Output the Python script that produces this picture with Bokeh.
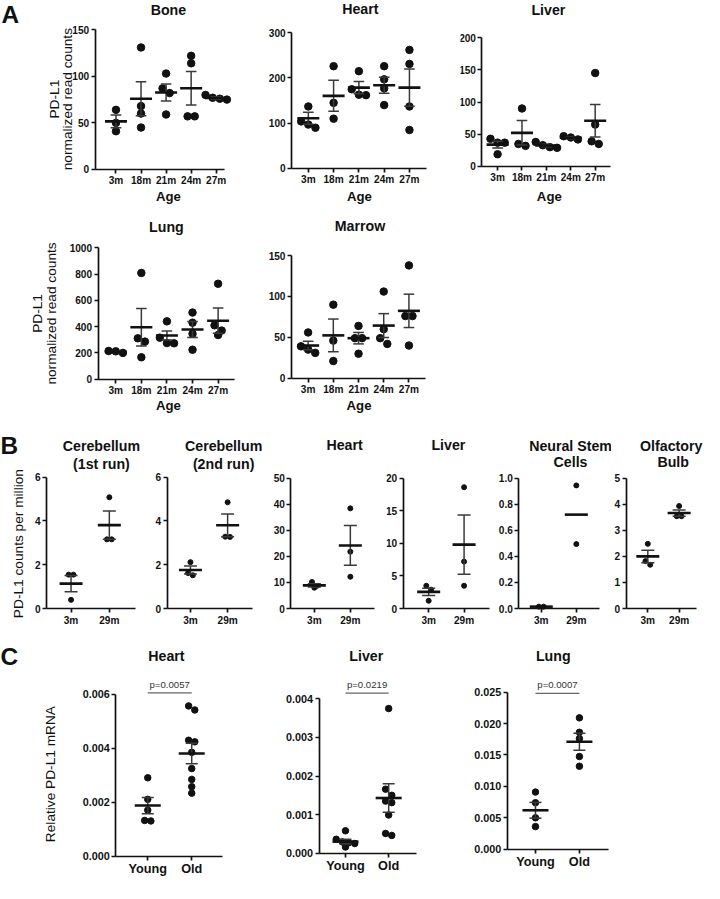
import math
from bokeh.plotting import figure
from bokeh.layouts import column, row
from bokeh.models import Label, FixedTicker, Range1d, NumeralTickFormatter
from bokeh.embed import file_html
from bokeh.resources import INLINE

# ---------------- data ----------------
AGES_A = ["3m", "18m", "21m", "24m", "27m"]
AGES_B = ["3m", "29m"]
GROUPS_C = ["Young", "Old"]

BONE_PTS = [[64, 50, 41], [131, 68, 60, 45], [103, 87, 82, 59], [122, 114, 57, 57], [80, 77, 76, 75]]
BONE_MEAN = [51.6, 76, 82.7, 87.2, 76.7]
BONE_SEM = [6.8, 18.3, 9.1, 18, 1.3]

HEART_A_PTS = [[137, 104, 97, 90], [226, 145, 110], [215, 175, 163, 162], [226, 197, 177, 140], [262, 231, 137, 85]]
HEART_A_MEAN = [110.8, 160.5, 178.6, 184, 178.6]
HEART_A_SEM = [13.2, 34.2, 13.7, 17.8, 41]

LIVER_A_PTS = [[43, 37, 37, 19], [90, 35, 32], [38, 33, 30, 29], [47, 45, 42], [145, 65, 39, 35]]
LIVER_A_MEAN = [34, 52.2, 32.5, 44.5, 71]
LIVER_A_SEM = [5.3, 19, 2, 1.5, 25.3]

LUNG_A_PTS = [[215, 212, 200], [808, 311, 286, 167], [440, 316, 275, 273], [507, 430, 346, 224], [726, 410, 370, 336]]
LUNG_A_MEAN = [208, 395, 333, 378, 445]
LUNG_A_SEM = [4.5, 143, 34, 60, 96]

MARROW_PTS = [[56, 39, 35, 31], [90, 46, 21], [64, 49, 49, 30], [106, 60, 49, 42], [138, 76, 76, 40]]
MARROW_MEAN = [40, 52.4, 49, 64.4, 82.4]
MARROW_SEM = [5.2, 20, 7, 14.6, 20.4]

CB1_PTS = [[1.55, 1.55, 0.4], [5.08, 3.16, 3.16]]
CB1_MEAN = [1.14, 3.81]
CB1_SEM = [0.37, 0.64]

CB2_PTS = [[2.12, 1.62, 1.52], [4.85, 3.28, 3.27]]
CB2_MEAN = [1.76, 3.8]
CB2_SEM = [0.18, 0.52]

HEART_B_PTS = [[10.2, 8.7, 8.0], [38.4, 21.8, 12.2]]
HEART_B_MEAN = [8.9, 24.2]
HEART_B_SEM = [0.6, 7.6]

LIVER_B_PTS = [[3.5, 2.9, 1.2], [18.6, 7.2, 3.5]]
LIVER_B_MEAN = [2.56, 9.8]
LIVER_B_SEM = [0.57, 4.55]

NSC_PTS = [[0.015, 0.015], [0.944, 0.494]]
NSC_MEAN = [0.015, 0.72]
NSC_SEM = [0.0, 0.0]

OLF_PTS = [[2.48, 1.82, 1.68], [3.93, 3.54, 3.54]]
OLF_MEAN = [2.0, 3.66]
OLF_SEM = [0.24, 0.12]

HEART_C_PTS = [[0.0029, 0.0021, 0.0017, 0.00132, 0.0013],
               [0.00556, 0.00541, 0.00429, 0.00423, 0.00384, 0.00324, 0.00284, 0.00257, 0.00233]]
HEART_C_MEAN = [0.00187, 0.0038]
HEART_C_SEM = [0.0003, 0.00038]

LIVER_C_PTS = [[0.00058, 0.00036, 0.00029, 0.00027, 0.00025, 0.00016],
               [0.00375, 0.00166, 0.0015, 0.00135, 0.00131, 0.00099, 0.00051, 0.00046]]
LIVER_C_MEAN = [0.0003, 0.00143]
LIVER_C_SEM = [0.00006, 0.00037]

LUNG_C_PTS = [[0.0091, 0.0074, 0.005, 0.0036], [0.0209, 0.0186, 0.0176, 0.01475, 0.0132]]
LUNG_C_MEAN = [0.0062, 0.0171]
LUNG_C_SEM = [0.00125, 0.00135]

P_TEXTS = ["p=0.0057", "p=0.0219", "p=0.0007"]
P_BARS = [0.00604, 0.00415, 0.0248]

# ---------------- layout helpers ----------------
S = 0.978
FONT = "Liberation Sans"
HALF_PI = math.pi / 2


def R(v):
    return int(round(S * v))


def swarm(vals, px_per_unit, dot_px):
    order = sorted(range(len(vals)), key=lambda i: -vals[i])
    rows = []
    for i in order:
        if rows and abs(vals[rows[-1][0]] - vals[i]) * px_per_unit < dot_px:
            rows[-1].append(i)
        else:
            rows.append([i])
    offs = [0.0] * len(vals)
    for r in rows:
        k = len(r)
        for j, i in enumerate(r):
            offs[i] = (j - (k - 1) / 2) * dot_px
    return offs


def panel(cell, rowy, axes, xr, cats, yticks, yfmt, pts, mean, sem, dot,
          mean_hw, cap_hw, texts, pbar=None, ptext=None,
          tick_fs=10.3, cat_fs=10.3, show_sem=True):
    x0, x1 = cell
    y0, y1 = rowy
    L, Rr, T, B = axes
    xs_, xe_ = xr
    ymax = yticks[-1]
    ppx = (Rr - L) / (xe_ - xs_)   # reference px per category unit
    ppy = (B - T) / ymax           # reference px per y unit
    fx0 = xs_ - (L - x0) / ppx
    fx1 = xe_ + (x1 - Rr) / ppx
    fy0 = -(y1 - B) / ppy
    fy1 = ymax + (T - y0) / ppy
    W = R(x1) - R(x0)
    H = R(y1) - R(y0)
    p = figure(width=W, height=H, x_range=Range1d(fx0, fx1), y_range=Range1d(fy0, fy1),
               output_backend="svg", toolbar_location=None,
               min_border_left=0, min_border_right=0, min_border_top=0, min_border_bottom=0)
    p.title.visible = False
    p.outline_line_color = None
    p.xgrid.visible = False
    p.ygrid.visible = False
    p.background_fill_color = "white"
    p.border_fill_color = "white"

    sppx = W / (fx1 - fx0)   # screen px per category unit
    sppy = H / (fy1 - fy0)   # screen px per y unit

    xs, ys = [], []
    for i, vals in enumerate(pts):
        offs = swarm(vals, sppy, dot * 0.95)
        for v, o in zip(vals, offs):
            xs.append(i + 1 + o / sppx)
            ys.append(v)

    n = len(cats)
    cx = [i + 1 for i in range(n)]
    mhw = mean_hw / sppx
    chw = cap_hw / sppx
    p.scatter(xs, ys, size=dot, color="#111111", line_color="#111111")
    if show_sem:
        lo = [m - s for m, s in zip(mean, sem)]
        hi = [m + s for m, s in zip(mean, sem)]
        p.segment(x0=cx, y0=lo, x1=cx, y1=hi, line_color="#3a3a3a", line_width=1.5)
        p.segment(x0=[c - chw for c in cx], y0=lo, x1=[c + chw for c in cx], y1=lo,
                  line_color="#3a3a3a", line_width=1.5)
        p.segment(x0=[c - chw for c in cx], y0=hi, x1=[c + chw for c in cx], y1=hi,
                  line_color="#3a3a3a", line_width=1.5)
    p.segment(x0=[c - mhw for c in cx], y0=mean, x1=[c + mhw for c in cx], y1=mean,
              line_color="#111111", line_width=2.6)

    if pbar is not None:
        p.segment(x0=[1], y0=[pbar], x1=[2], y1=[pbar], line_color="#666666", line_width=1.3)
        p.add_layout(Label(x=1.5, y=pbar, text=ptext, text_font=FONT,
                           text_font_size=f"{9.8 * S:.1f}px", text_color="#333333",
                           text_align="center", text_baseline="bottom", y_offset=3))

    p.xaxis.fixed_location = 0
    p.yaxis.fixed_location = xs_
    p.xaxis.bounds = (xs_, xe_)
    p.yaxis.bounds = (0, ymax)
    p.xaxis.ticker = FixedTicker(ticks=cx)
    p.xaxis.major_label_overrides = {i + 1: c for i, c in enumerate(cats)}
    p.yaxis.ticker = FixedTicker(ticks=yticks)
    if yfmt:
        p.yaxis.formatter = NumeralTickFormatter(format=yfmt)
    for ax, fs in ((p.xaxis[0], cat_fs), (p.yaxis[0], tick_fs)):
        ax.axis_line_width = 1.7
        ax.axis_line_color = "#111111"
        ax.major_tick_line_width = 1.7
        ax.major_tick_line_color = "#111111"
        ax.major_tick_out = 4
        ax.major_tick_in = 0
        ax.minor_tick_line_color = None
        ax.major_label_text_font = FONT
        ax.major_label_text_font_style = "bold"
        ax.major_label_text_font_size = f"{fs * S:.1f}px"
        ax.major_label_text_color = "#111111"
        ax.major_label_standoff = 2

    for t in texts:
        text, tx, ty, size = t[0], t[1], t[2], t[3]
        bold = t[4] if len(t) > 4 else True
        angle = t[5] if len(t) > 5 else 0
        p.add_layout(Label(x=fx0 + (tx - x0) / ppx, y=fy0 + (y1 - ty) / ppy,
                           text=text, text_font=FONT, text_font_size=f"{size * S:.1f}px",
                           text_font_style="bold" if bold else "normal",
                           text_color="#111111", text_align="center", text_baseline="middle",
                           angle=angle))
    return p


TS = 14.5   # panel title size (reference px)
AS = 13.5   # "Age" size
YS = 14     # y-axis title size

# ---------------- row A1 ----------------
RA1 = (0, 212)
bone = panel((0, 250), RA1, (97, 230, 30, 173), (0.17, 5.35), AGES_A, [0, 50, 100, 150], None,
             BONE_PTS, BONE_MEAN, BONE_SEM, 7.5, 11, 5.3,
             [("A", 10, 14, 25), ("Bone", 172, 10, TS), ("Age", 172, 201, AS),
              ("PD-L1", 55, 101, YS, False, HALF_PI),
              ("normalized read counts", 69, 101, YS, False, HALF_PI)])
heart_a = panel((250, 470), RA1, (298, 435, 33, 172), (0.34, 5.66), AGES_A, [0, 100, 200, 300], None,
                HEART_A_PTS, HEART_A_MEAN, HEART_A_SEM, 7.5, 11, 5.3,
                [("Heart", 368, 9, TS), ("Age", 367, 201, AS)])
liver_a = panel((470, 720), RA1, (492, 624, 38, 170), (0.36, 5.64), AGES_A, [0, 50, 100, 150, 200], None,
                LIVER_A_PTS, LIVER_A_MEAN, LIVER_A_SEM, 7.5, 11, 5.3,
                [("Liver", 560, 10, TS), ("Age", 561, 201, AS)])

# ---------------- row A2 ----------------
RA2 = (212, 425)
lung_a = panel((0, 250), RA2, (100, 240, 253, 387), (0.31, 5.65), AGES_A,
               [0, 200, 400, 600, 800, 1000], None,
               LUNG_A_PTS, LUNG_A_MEAN, LUNG_A_SEM, 7.5, 11, 5.3,
               [("Lung", 170, 232, TS), ("Age", 172, 414, AS),
                ("PD-L1", 38, 320, YS, False, HALF_PI),
                ("normalized read counts", 52, 320, YS, False, HALF_PI)])
marrow = panel((250, 720), RA2, (298, 435, 261, 386), (0.34, 5.66), AGES_A, [0, 50, 100, 150], None,
               MARROW_PTS, MARROW_MEAN, MARROW_SEM, 7.5, 11, 5.3,
               [("Marrow", 368, 231, TS), ("Age", 367, 414, AS)])

# ---------------- row B ----------------
RB = (425, 648)
cb1 = panel((0, 150), RB, (47, 138, 487, 621.5), (0.36, 2.69), AGES_B, [0, 2, 4, 6], None,
            CB1_PTS, CB1_MEAN, CB1_SEM, 5, 11.5, 6.5,
            [("B", 9, 455, 25), ("Cerebellum", 103, 455, TS), ("(1st run)", 103, 474, TS),
             ("PD-L1 counts per million", 18, 555, YS, False, HALF_PI)])
cb2 = panel((150, 275), RB, (170, 258, 487, 621.5), (0.37, 2.68), AGES_B, [0, 2, 4, 6], None,
            CB2_PTS, CB2_MEAN, CB2_SEM, 5, 11.5, 6.5,
            [("Cerebellum", 228, 455, TS), ("(2nd run)", 228, 474, TS)])
heart_b = panel((275, 395), RB, (297, 383, 488, 621.5), (0.35, 2.68), AGES_B, [0, 10, 20, 30, 40, 50], None,
                HEART_B_PTS, HEART_B_MEAN, HEART_B_SEM, 5, 11.5, 6.5,
                [("Heart", 352, 454, TS)])
liver_b = panel((395, 504), RB, (412, 500, 488, 621.5), (0.28, 2.72), AGES_B, [0, 5, 10, 15, 20], None,
                LIVER_B_PTS, LIVER_B_MEAN, LIVER_B_SEM, 5, 11.5, 6.5,
                [("Liver", 458, 454, TS)])
nsc = panel((504, 625), RB, (530, 613, 488, 621.5), (0.36, 2.67), AGES_B, [0, 0.2, 0.4, 0.6, 0.8, 1.0], "0.0",
            NSC_PTS, NSC_MEAN, NSC_SEM, 5, 11.5, 6.5,
            [("Neural Stem", 583, 455, TS), ("Cells", 583, 472, TS)], show_sem=False)
olf = panel((625, 720), RB, (640, 712, 488, 621.5), (0.31, 2.56), AGES_B, [0, 1, 2, 3, 4, 5], None,
            OLF_PTS, OLF_MEAN, OLF_SEM, 5, 11.5, 6.5,
            [("Olfactory", 686, 455, TS), ("Bulb", 688, 472, TS)])

# ---------------- row C ----------------
RC = (648, 899)
heart_c = panel((0, 250), RC, (118, 227, 709, 875), (0.27, 2.69), GROUPS_C,
                [0, 0.002, 0.004, 0.006], "0.000",
                HEART_C_PTS, HEART_C_MEAN, HEART_C_SEM, 6.5, 13, 6,
                [("C", 9, 671, 25), ("Heart", 170, 670, TS),
                 ("Relative PD-L1 mRNA", 51, 791, YS, False, HALF_PI)],
                pbar=P_BARS[0], ptext=P_TEXTS[0], tick_fs=11, cat_fs=13)
liver_c = panel((250, 470), RC, (326, 425, 714, 872), (0.39, 2.64), GROUPS_C,
                [0, 0.001, 0.002, 0.003, 0.004], "0.000",
                LIVER_C_PTS, LIVER_C_MEAN, LIVER_C_SEM, 6.5, 13, 6,
                [("Liver", 374, 670, TS)],
                pbar=P_BARS[1], ptext=P_TEXTS[1], tick_fs=11, cat_fs=13)
lung_c = panel((470, 720), RC, (518, 622, 707, 868), (0.36, 2.67), GROUPS_C,
               [0, 0.005, 0.01, 0.015, 0.02, 0.025], "0.000",
               LUNG_C_PTS, LUNG_C_MEAN, LUNG_C_SEM, 6.5, 13, 6,
               [("Lung", 565, 670, TS)],
               pbar=P_BARS[2], ptext=P_TEXTS[2], tick_fs=11, cat_fs=13)

layout = column(
    row(bone, heart_a, liver_a),
    row(lung_a, marrow),
    row(cb1, cb2, heart_b, liver_b, nsc, olf),
    row(heart_c, liver_c, lung_c),
)

open("out.html", "w").write(file_html(layout, INLINE))
